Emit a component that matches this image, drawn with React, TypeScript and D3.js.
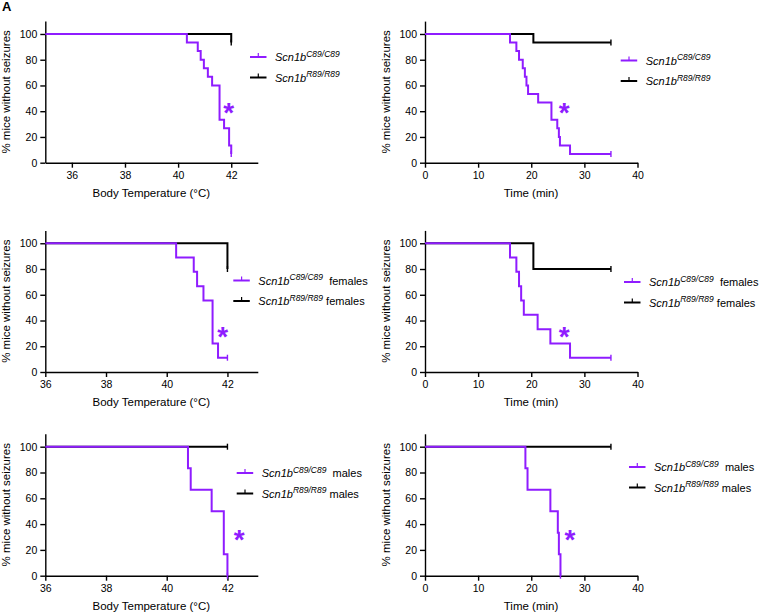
import React, { useRef, useEffect } from 'react';
import * as d3 from 'd3';

// step events: [x at which the drop happens, % remaining after it]
const tempAllC89 = [[40.33, 93.3], [40.74, 86.7], [40.85, 80], [40.97, 73.3], [41.12, 66.7], [41.28, 60], [41.56, 33.3], [41.73, 26.7], [41.92, 13.3], [42, 6.7]];
const tempAllR89 = [[42, 93.3]];
const timeAllC89 = [[16.0, 93.3], [17.2, 86.7], [17.7, 80], [18.4, 73.3], [18.8, 66.7], [19.1, 60], [19.4, 53.3], [21.3, 46.7], [23.8, 33.3], [24.9, 26.7], [25.2, 20], [25.4, 13.3], [27.3, 6.7]];
const timeAllR89 = [[20.4, 93.3]];
const tempFemC89 = [[40.31, 88.9], [40.89, 77.8], [41.0, 66.7], [41.21, 55.6], [41.51, 22.2], [41.69, 11.1]];
const tempFemR89 = [[42, 80]];
const timeFemC89 = [[16.0, 88.9], [17.2, 77.8], [17.7, 66.7], [18.1, 55.6], [18.6, 44.4], [21.2, 33.3], [23.6, 22.2], [27.3, 11.1]];
const timeFemR89 = [[20.4, 80]];
const tempMaleC89 = [[40.7, 83.3], [40.79, 66.7], [41.48, 50], [41.88, 16.7], [42, 0]];
const tempMaleR89: number[][] = [];
const timeMaleC89 = [[18.9, 83.3], [19.3, 66.7], [23.6, 50], [25.0, 33.3], [25.2, 16.7], [25.5, 0]];
const timeMaleR89: number[][] = [];

const yTicks = [0, 20, 40, 60, 80, 100];
const tempTicks = [36, 38, 40, 42];
const timeTicks = [0, 10, 20, 30, 40];
const groupSuffix = ['', ' females', ' males'];

const PURPLE = '#8f1cff';
const FONT = '"Liberation Sans", Arial, sans-serif';

const rows = [
  { y0: 162.7, y110: 21.1 },
  { y0: 372, y110: 230.4 },
  { y0: 575.7, y110: 433.8 },
];

const panels = [
  { row: 0, left: true, domain: [35, 43], ticks: tempTicks, c89: tempAllC89, r89: tempAllR89, end: [42, 42], label: 'Body Temperature (°C)', legend: [275, 61], star: [228.7, 107] },
  { row: 0, left: false, domain: [0, 40], ticks: timeTicks, c89: timeAllC89, r89: timeAllR89, end: [35, 35], label: 'Time (min)', legend: [645.7, 64.5], star: [564.3, 107] },
  { row: 1, left: true, domain: [36, 43], ticks: tempTicks, c89: tempFemC89, r89: tempFemR89, end: [42, 42], label: 'Body Temperature (°C)', legend: [258.3, 284.5], star: [222.7, 330.7] },
  { row: 1, left: false, domain: [0, 40], ticks: timeTicks, c89: timeFemC89, r89: timeFemR89, end: [35, 35], label: 'Time (min)', legend: [649, 286], star: [564.3, 330.7] },
  { row: 2, left: true, domain: [36, 43], ticks: tempTicks, c89: tempMaleC89, r89: tempMaleR89, end: [42, 42], label: 'Body Temperature (°C)', legend: [261.7, 477], star: [239.3, 534] },
  { row: 2, left: false, domain: [0, 40], ticks: timeTicks, c89: timeMaleC89, r89: timeMaleR89, end: [25.5, 35], label: 'Time (min)', legend: [654, 471], star: [570, 534] },
];

const App = () => {
  const ref = useRef<SVGSVGElement>(null);

  useEffect(() => {
    const svg = d3.select(ref.current);
    svg.selectAll('*').remove();

    svg.append('text').attr('x', 2).attr('y', 11).attr('font-size', 13).attr('font-weight', 'bold')
      .attr('font-family', FONT).text('A');

    panels.forEach(p => {
      const r = rows[p.row];
      const x0 = p.left ? 45.3 : 425;
      const x = d3.scaleLinear().domain(p.domain).range([x0, x0 + 212.5]);
      const y = d3.scaleLinear().domain([0, 110]).range([r.y0, r.y110]);
      const g = svg.append('g').attr('font-family', FONT);

      // axes
      g.append('g').attr('transform', `translate(0,${r.y0})`)
        .call(d3.axisBottom(x).tickValues(p.ticks).tickFormat(d3.format('d')).tickSize(5).tickPadding(4).tickSizeOuter(0))
        .call(a => a.selectAll('text').attr('font-size', 10.5).attr('fill', '#000'))
        .call(a => a.selectAll('line,path').attr('stroke', '#000').attr('stroke-width', 1.4));
      g.append('g').attr('transform', `translate(${x0},0)`)
        .call(d3.axisLeft(y).tickValues(yTicks).tickFormat(d3.format('d')).tickSize(5).tickPadding(3).tickSizeOuter(0))
        .call(a => a.selectAll('text').attr('font-size', 10.5).attr('fill', '#000'))
        .call(a => a.selectAll('line,path').attr('stroke', '#000').attr('stroke-width', 1.4));

      g.append('text').attr('x', x0 + 106).attr('y', r.y0 + 34).attr('text-anchor', 'middle')
        .attr('font-size', 11.5).text(p.label);
      g.append('text')
        .attr('transform', `translate(${x0 - 35},${(r.y0 + r.y110) / 2}) rotate(-90)`)
        .attr('text-anchor', 'middle').attr('font-size', 11.5).text('% mice without seizures');

      // survival curves
      const line = d3.line<number[]>().x(d => x(d[0])).y(d => y(d[1])).curve(d3.curveStepAfter);
      const series = [
        { ev: p.r89, end: p.end[1], color: '#000' },
        { ev: p.c89, end: p.end[0], color: PURPLE },
      ];
      series.forEach(s => {
        const last = s.ev.length ? s.ev[s.ev.length - 1][1] : 100;
        const pts = [[p.domain[0], 100], ...s.ev, [s.end, last]];
        g.append('path').attr('d', line(pts)).attr('fill', 'none')
          .attr('stroke', s.color).attr('stroke-width', 2);
        g.append('line').attr('x1', x(s.end)).attr('x2', x(s.end))
          .attr('y1', y(last) - 3).attr('y2', y(last) + 3)
          .attr('stroke', s.color).attr('stroke-width', 1.4);
      });

      // legend
      const [lx, ly] = p.legend;
      const items = [
        { sup: 'C89/C89', color: PURPLE, dy: 0 },
        { sup: 'R89/R89', color: '#000', dy: 20.5 },
      ];
      items.forEach(it => {
        const cy = ly - 4 + it.dy;
        g.append('line').attr('x1', lx - 25).attr('x2', lx - 8.5).attr('y1', cy).attr('y2', cy)
          .attr('stroke', it.color).attr('stroke-width', 2);
        g.append('line').attr('x1', lx - 16.7).attr('x2', lx - 16.7).attr('y1', cy).attr('y2', cy - 4)
          .attr('stroke', it.color).attr('stroke-width', 1.2);
        const t = g.append('text').attr('x', lx).attr('y', ly + it.dy).attr('font-size', 11);
        t.append('tspan').attr('font-style', 'italic').text('Scn1b');
        t.append('tspan').attr('font-style', 'italic').attr('font-size', 8.5).attr('dy', -4.5).text(it.sup);
        t.append('tspan').attr('dy', 4.5).text(groupSuffix[p.row] ? (it.dy ? '' : '\u00a0') + groupSuffix[p.row] : '');
      });

      // significance mark
      g.append('text').attr('x', p.star[0]).attr('y', p.star[1] + 15).attr('text-anchor', 'middle')
        .attr('font-size', 28).attr('font-weight', 'bold').attr('fill', PURPLE).text('*');
    });
  }, []);

  return (
    <div>
      <svg ref={ref} width={760} height={615} style={{ position: 'absolute', left: 0, top: 0 }}></svg>
    </div>
  );
};

export default App;
